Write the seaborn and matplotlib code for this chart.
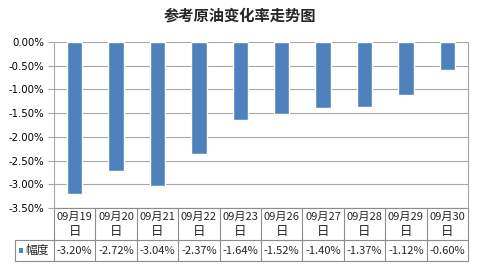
import matplotlib
matplotlib.use("Agg")
import matplotlib.pyplot as plt
import seaborn as sns
import pandas as pd
import numpy as np

dates = ["09月19日", "09月20日", "09月21日", "09月22日", "09月23日",
         "09月26日", "09月27日", "09月28日", "09月29日", "09月30日"]
values = [-3.20, -2.72, -3.04, -2.37, -1.64, -1.52, -1.40, -1.37, -1.12, -0.60]
series_name = "幅度"
title = "参考原油变化率走势图"
yticks = [0.0, -0.5, -1.0, -1.5, -2.0, -2.5, -3.0, -3.5]

sns.set_theme(style="white")
plt.rcParams['font.family'] = ['DejaVu Sans', 'Noto Sans CJK SC']
cjk = ['Noto Sans CJK SC', 'DejaVu Sans']

df = pd.DataFrame({"date": dates, "value": values})

fig = plt.figure(figsize=(4.79, 2.68), dpi=100)
W, H = 479, 268
x0, x1, y0, y1 = 54, 468, 42, 208
ax = fig.add_axes([x0 / W, 1 - y1 / H, (x1 - x0) / W, (y1 - y0) / H])

bar_color = "#4F81BD"
sns.barplot(data=df, x="date", y="value", color=bar_color, width=0.37,
            saturation=1, ax=ax, zorder=3)

ax.set_ylim(-3.5, 0)
ax.set_xlim(-0.5, len(dates) - 0.5)
ax.set_yticks(yticks)
ax.set_yticklabels([f"{t:.2f}%" for t in yticks], fontsize=7.3, color="black")
ax.set_xticks([])
ax.set_xlabel("")
ax.set_ylabel("")
grid_c = "#a6a6a6"
for t in yticks:
    ax.axhline(t, color=grid_c, lw=0.8, zorder=1)
for s in ["top", "bottom"]:
    ax.spines[s].set_visible(False)
for s in ["left", "right"]:
    ax.spines[s].set_color(grid_c)
    ax.spines[s].set_linewidth(0.8)
ax.tick_params(axis="y", length=4, width=0.8, color=grid_c, pad=3, left=True)

# table below axes
ph = y1 - y0
pw = x1 - x0
def ay(py):
    return (y1 - py) / ph
r1 = ay(240)
r2 = ay(261)
hx = -(x0 - 15) / pw
n = len(dates)
tc = "#8c8c8c"
kw = dict(transform=ax.transAxes, clip_on=False, color=tc, lw=0.8)
ax.plot([0, 1], [0, 0], **kw)
ax.plot([hx, 1], [r1, r1], **kw)
ax.plot([hx, 1], [r2, r2], **kw)
ax.plot([hx, hx], [r1, r2], **kw)
for i in range(n + 1):
    xf = i / n
    ax.plot([xf, xf], [0, r2], **kw)

for i, (d, v) in enumerate(zip(dates, values)):
    xc = (i + 0.5) / n
    ax.text(xc, ay(216.5), d[:-1], transform=ax.transAxes, ha="center", va="center",
            fontsize=8, family=cjk)
    ax.text(xc, ay(232), d[-1], transform=ax.transAxes, ha="center", va="center",
            fontsize=9, family=cjk)
    ax.text(xc, ay(250.5), f"{v:.2f}%", transform=ax.transAxes, ha="center",
            va="center", fontsize=8, family=cjk)

ax.add_patch(plt.Rectangle(((19 - x0) / pw, ay(253)), 4 / pw, 5 / ph,
                           transform=ax.transAxes, clip_on=False,
                           color=bar_color, lw=0))
ax.text((25 - x0) / pw, ay(250.5), series_name, transform=ax.transAxes,
        ha="left", va="center", fontsize=8.5, family=cjk)

fig.text(240 / W, 1 - 15 / H, title, ha="center", va="center", fontsize=11,
         fontweight="bold", family=cjk)

fig.savefig("out.png", dpi=100, facecolor="white")
